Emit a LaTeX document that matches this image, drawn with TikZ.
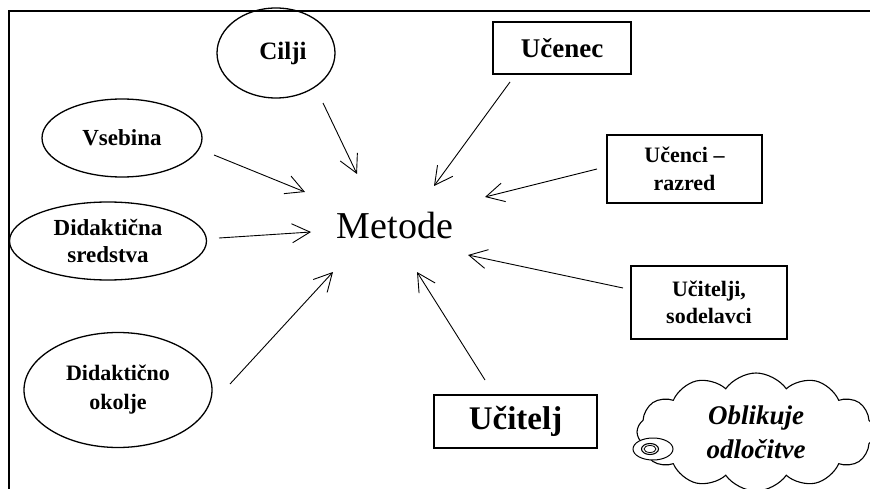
\documentclass[tikz,border=0pt]{standalone}
\usepackage{fontspec}
\setmainfont{Liberation Serif}
\usetikzlibrary{shapes.geometric,shapes.symbols,arrows.meta}
\begin{document}
\begin{tikzpicture}[x=1pt,y=-1pt,
  ell/.style={draw,ellipse,line width=1.3pt,inner sep=0pt,align=center},
  boxnode/.style={draw,rectangle,line width=1.6pt,inner sep=0pt,align=center},
  arr/.style={line width=0.9pt,-{Straight Barb[length=18pt,width=19pt,line width=0.9pt]}}]
\useasboundingbox (0,0) rectangle (870,489);
\clip (0,0) rectangle (870,489);
% frame
\draw[line width=2.4pt] (872,11) -- (9,11) -- (9,492);
% centre
\node[font=\fontsize{38}{44}\selectfont] (metode) at (395,226) {Metode};
% ellipses
\node[ell,minimum width=118pt,minimum height=90pt,font=\bfseries\fontsize{25}{29}\selectfont] (cilji) at (276,53) {\hspace*{14pt}Cilji};
\node[ell,minimum width=160pt,minimum height=78pt,font=\bfseries\fontsize{23}{27}\selectfont] (vsebina) at (122,138) {Vsebina};
\node[ell,minimum width=197pt,minimum height=78pt,font=\bfseries\fontsize{23}{27}\selectfont] (sredstva) at (108,241) {Didaktična\\sredstva};
\node[ell,minimum width=188pt,minimum height=115pt,font=\bfseries\fontsize{22}{29}\selectfont] (okolje) at (118,390) {Didaktično\\okolje};
% boxes
\node[boxnode,minimum width=138pt,minimum height=52pt,font=\bfseries\fontsize{27}{31}\selectfont] (ucenec) at (562,48) {Učenec};
\node[boxnode,minimum width=155pt,minimum height=68pt,font=\bfseries\fontsize{22}{28}\selectfont] (razred) at (684.5,169) {Učenci –\\razred};
\node[boxnode,minimum width=156pt,minimum height=73pt,font=\bfseries\fontsize{22}{27}\selectfont] (ucitelji) at (709,302.5) {Učitelji,\\sodelavci};
\node[boxnode,minimum width=163pt,minimum height=53pt,font=\bfseries\fontsize{33}{38}\selectfont] (ucitelj) at (515.5,421.5) {Učitelj};
% cloud
\node[cloud,draw,line width=1.1pt,cloud puffs=12,cloud puff arc=110,aspect=2.05,minimum width=238pt,minimum height=118pt,inner sep=0pt,align=center,font=\bfseries\itshape\fontsize{27}{34}\selectfont] (oblak) at (756,432) {Oblikuje\\odločitve};
\node[draw,ellipse,line width=1pt,fill=white,minimum width=40pt,minimum height=22pt,inner sep=0pt] (b1) at (653,449) {};
\node[draw,ellipse,line width=1.1pt,minimum width=17pt,minimum height=11pt,inner sep=0pt] (b2) at (650,449) {};
\node[draw,ellipse,line width=0.8pt,minimum width=12pt,minimum height=7pt,inner sep=0pt] (b3) at (650,449) {};
% arrow end points
\coordinate (c1s) at (323,103); \coordinate (c1e) at (357,174);
\coordinate (c2s) at (510,82);  \coordinate (c2e) at (434,186);
\coordinate (c3s) at (214,155); \coordinate (c3e) at (305,192);
\coordinate (c4s) at (219,238); \coordinate (c4e) at (311,232);
\coordinate (c5s) at (230,384); \coordinate (c5e) at (333,272);
\coordinate (c6s) at (485,380); \coordinate (c6e) at (417,272);
\coordinate (c7s) at (623,288); \coordinate (c7e) at (468,255);
\coordinate (c8s) at (597,169); \coordinate (c8e) at (485,197);
\draw[arr] (c1s) -- (c1e);
\draw[arr] (c2s) -- (c2e);
\draw[arr] (c3s) -- (c3e);
\draw[arr] (c4s) -- (c4e);
\draw[arr] (c5s) -- (c5e);
\draw[arr] (c6s) -- (c6e);
\draw[arr] (c7s) -- (c7e);
\draw[arr] (c8s) -- (c8e);
\end{tikzpicture}
\end{document}
